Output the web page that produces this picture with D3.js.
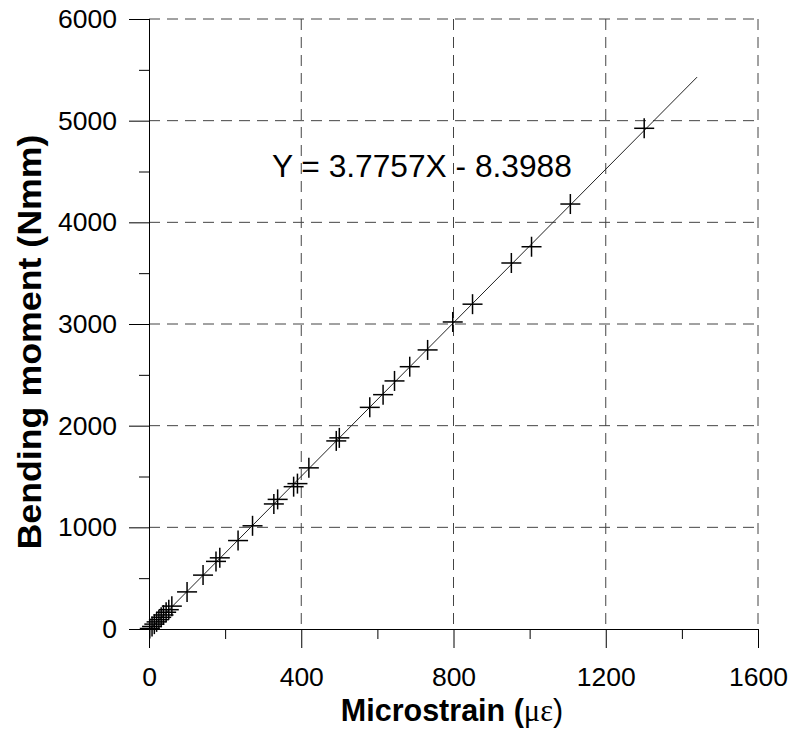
<!DOCTYPE html>
<html>
<head>
<meta charset="utf-8">
<script src="https://cdn.jsdelivr.net/npm/d3@7"></script>
<style>
  body { margin: 0; background: #fff; }
  text { font-family: "Liberation Sans", Arial, sans-serif; fill: #000; }
</style>
</head>
<body>
<script>
// measured points (microstrain, Nmm)
var strain = [2, 8, 14, 20, 26, 32, 38, 45, 52, 60,
              100, 142, 176, 186, 234, 272, 328, 338, 380, 390,
              420, 492, 500, 580, 615, 645, 685, 732, 798, 850,
              952, 1005, 1107, 1301];
var moment = [5, 25, 48, 70, 92, 115, 138, 165, 190, 225,
              365, 530, 665, 700, 870, 1015, 1230, 1275, 1400, 1430,
              1585, 1850, 1880, 2180, 2305, 2440, 2580, 2745, 3020, 3195,
              3600, 3760, 4180, 4925];

// regression  Y = 3.7757X - 8.3988
var slope = 3.7757;
var intercept = -8.3988;
var fitRange = [0, 1440];

var xTicks = [0, 400, 800, 1200, 1600];
var xMinor = [200, 600, 1000, 1400];
var yTicks = [0, 1000, 2000, 3000, 4000, 5000, 6000];
var yMinor = [500, 1500, 2500, 3500, 4500, 5500];

var W = 794, H = 731;
var pLeft = 149, pRight = 758, pTop = 19, pBottom = 629;

var svg = d3.select("body").append("svg")
    .attr("width", W)
    .attr("height", H);

var x = d3.scaleLinear().domain([0, 1600]).range([pLeft, pRight]);
var y = d3.scaleLinear().domain([0, 6000]).range([pBottom, pTop]);

// dashed grid
svg.append("g").selectAll("line")
    .data(xTicks.slice(1))
    .enter().append("line")
    .attr("x1", function(d){ return x(d); })
    .attr("x2", function(d){ return x(d); })
    .attr("y1", pTop)
    .attr("y2", pBottom)
    .attr("stroke", "#444")
    .attr("stroke-width", 1)
    .attr("stroke-dasharray", "11,7");

svg.append("g").selectAll("line")
    .data(yTicks.slice(1))
    .enter().append("line")
    .attr("x1", pLeft)
    .attr("x2", pRight)
    .attr("y1", function(d){ return y(d); })
    .attr("y2", function(d){ return y(d); })
    .attr("stroke", "#444")
    .attr("stroke-width", 1)
    .attr("stroke-dasharray", "11,7");

// axes
var xAxis = svg.append("g")
    .attr("transform", "translate(0," + pBottom + ")")
    .call(d3.axisBottom(x).tickValues(xTicks).tickSize(19).tickSizeOuter(0).tickPadding(19)
        .tickFormat(d3.format("d")));
xAxis.append("g")
    .call(d3.axisBottom(x).tickValues(xMinor).tickSize(10).tickFormat(""));
xAxis.select(".domain").attr("d", "M" + (pLeft - 20) + ",0.5H" + pRight);

var yAxis = svg.append("g")
    .attr("transform", "translate(" + pLeft + ",0)")
    .call(d3.axisLeft(y).tickValues(yTicks).tickSize(20).tickSizeOuter(0).tickPadding(12)
        .tickFormat(d3.format("d")));
yAxis.append("g")
    .call(d3.axisLeft(y).tickValues(yMinor).tickSize(10).tickFormat(""));
yAxis.select(".domain").attr("d", "M0.5," + pTop + "V" + (pBottom + 19));

svg.selectAll(".tick line, .domain").attr("stroke", "#000").attr("stroke-width", 1);
svg.selectAll(".tick text")
    .style("font-family", "'Liberation Sans', Arial, sans-serif")
    .style("font-size", "26.5px")
    .attr("fill", "#000");

// fitted line
svg.append("line")
    .attr("x1", x(fitRange[0]))
    .attr("y1", y(slope * fitRange[0] + intercept))
    .attr("x2", x(fitRange[1]))
    .attr("y2", y(slope * fitRange[1] + intercept))
    .attr("stroke", "#222")
    .attr("stroke-width", 1);

// crosses
var pts = strain.map(function(s, i){ return {s: s, m: moment[i]}; });
var arm = 10;
var marks = svg.append("g").selectAll("g")
    .data(pts)
    .enter().append("g")
    .attr("transform", function(d){ return "translate(" + x(d.s) + "," + y(d.m) + ")"; });
marks.append("line").attr("x1", -arm).attr("x2", arm).attr("y1", 0).attr("y2", 0);
marks.append("line").attr("x1", 0).attr("x2", 0).attr("y1", -arm).attr("y2", arm);
marks.selectAll("line").attr("stroke", "#000").attr("stroke-width", 1.5);

// equation
svg.append("text")
    .attr("x", 272)
    .attr("y", 177)
    .style("font-size", "31.7px")
    .text("Y = 3.7757X - 8.3988");

// axis titles
var xt = svg.append("text")
    .attr("x", 452)
    .attr("y", 721)
    .attr("text-anchor", "middle")
    .style("font-size", "30.5px")
    .style("font-weight", "bold");
xt.append("tspan").text("Microstrain (");
xt.append("tspan").style("font-family", "'Liberation Serif', serif").style("font-weight", "normal").text("με");
xt.append("tspan").style("font-weight", "normal").text(")");

svg.append("text")
    .attr("transform", "translate(41,342) rotate(-90)")
    .attr("text-anchor", "middle")
    .attr("textLength", 415)
    .attr("lengthAdjust", "spacingAndGlyphs")
    .style("font-size", "33px")
    .style("font-weight", "bold")
    .text("Bending moment (Nmm)");
</script>
</body>
</html>
